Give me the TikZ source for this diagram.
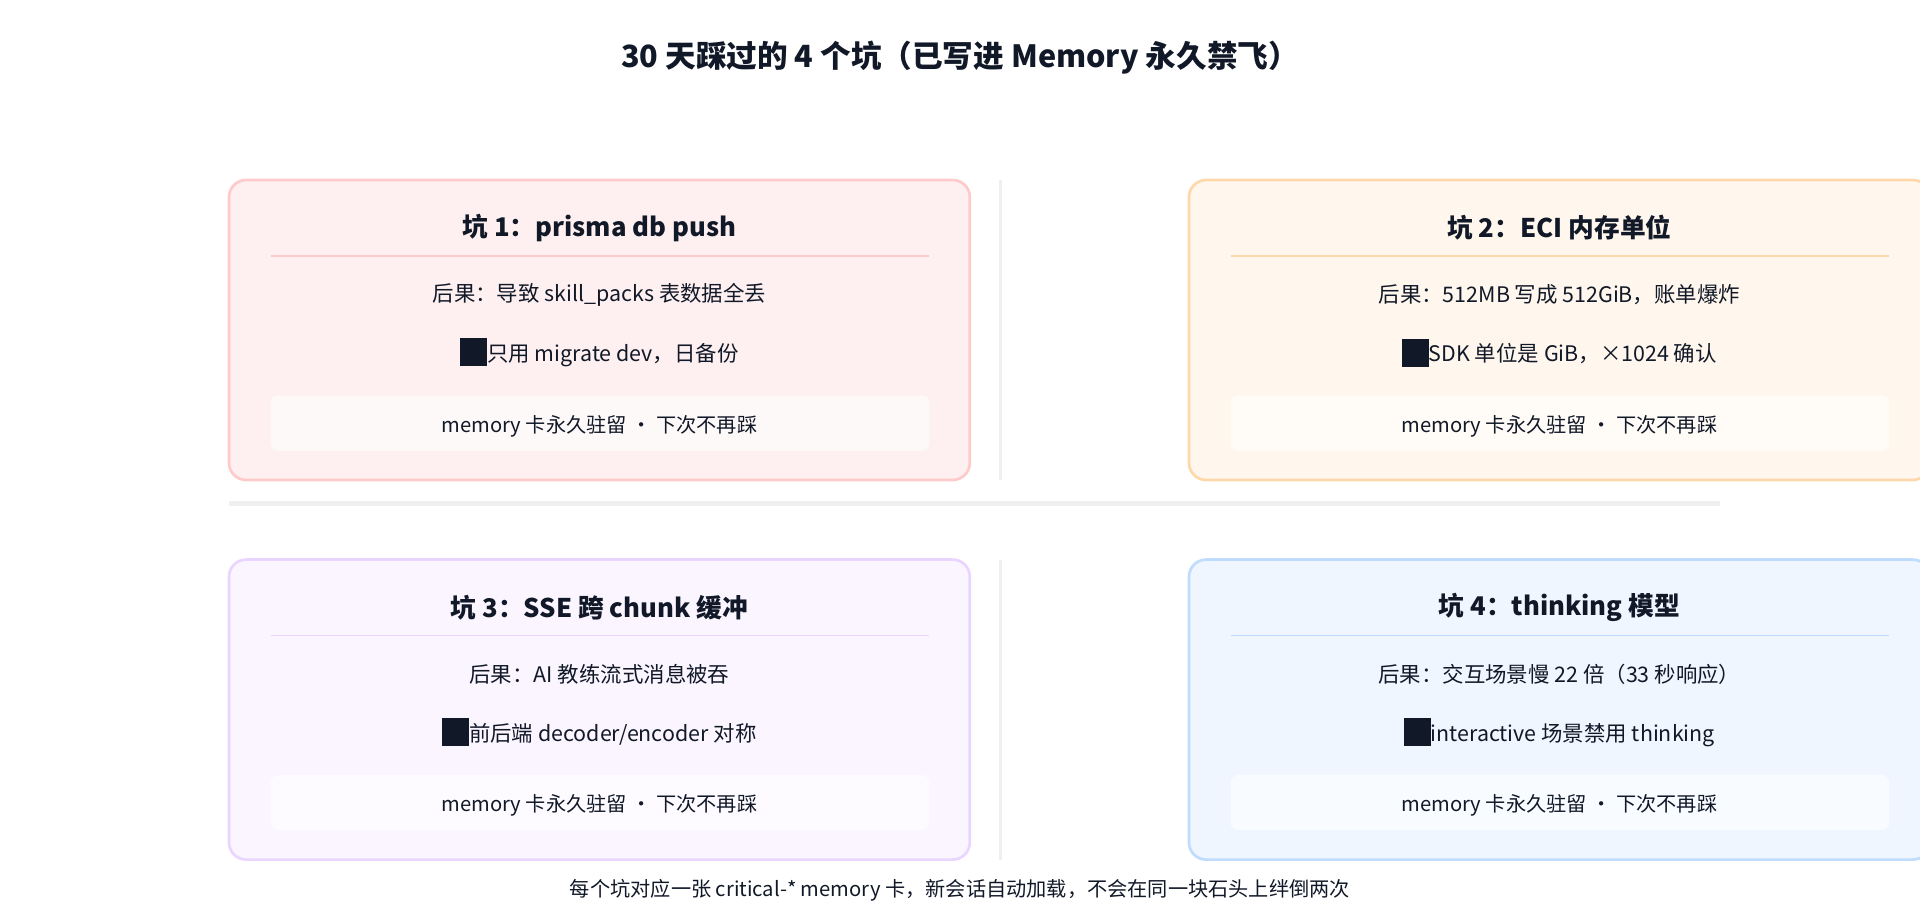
\documentclass[tikz,border=0pt]{standalone}
\usepackage{fontspec}
\setmainfont{Noto Sans CJK SC}
\begin{document}
\definecolor{ink}{HTML}{111827}
\definecolor{fa}{HTML}{FEF0F0}\definecolor{ba}{HTML}{FECACA}
\definecolor{fb}{HTML}{FFF7ED}\definecolor{bb}{HTML}{FED7AA}
\definecolor{fc}{HTML}{FAF5FF}\definecolor{bc}{HTML}{E9D5FF}
\definecolor{fd}{HTML}{EFF6FF}\definecolor{bd}{HTML}{BFDBFE}
\definecolor{sep}{HTML}{EEEFF1}
\newcommand{\blk}{{\color{ink}\rule[-0.22em]{1.25em}{1.3em}}}
\begin{tikzpicture}[x=1pt,y=-1pt,
  card/.style={draw=#1,line width=2.2pt,rounded corners=14pt},
  ttl/.style={font=\fontsize{21}{25}\selectfont\bfseries,text=ink},
  body/.style={font=\fontsize{17.5}{21}\selectfont,text=ink},
  pill/.style={fill=white,fill opacity=0.6,rounded corners=6pt,draw=none},
  pilltxt/.style={font=\fontsize{16.5}{20}\selectfont,text=ink}]
\useasboundingbox (0,0) rectangle (1568,751.4);
\node[font=\fontsize{25}{30}\selectfont\bfseries,text=ink] (title) at (784,47) {30 天踩过的 4 个坑（已写进 Memory 永久禁飞）};
\draw[sep,line width=2.5pt] (817,147) -- (817,392);
\draw[sep,line width=2.5pt] (817,457) -- (817,702);
\draw[sep,line width=4pt] (187,411) -- (1405,411);
\newcommand{\card}[8]{%
 \begin{scope}[shift={(#1,#2)}]
 \draw[card=#4,fill=#3] (0,0) rectangle (605,245);
 \node[ttl] (t#8) at (302.5,39) {#5};
 \draw[#4,line width=1.2pt] (34,62) -- (572,62);
 \node[body] (a#8) at (302.5,94) {#6};
 \node[body] (b#8) at (302.5,141) {\blk#7};
 \fill[pill] (34,176) rectangle (572,221);
 \node[pilltxt] (m#8) at (302.5,201) {memory 卡永久驻留 · 下次不再踩};
 \end{scope}}
\card{187}{147}{fa}{ba}{坑 1：prisma db push}{后果：导致 skill\_packs 表数据全丢}{只用 migrate dev，日备份}{1}
\card{971}{147}{fb}{bb}{坑 2：ECI 内存单位}{后果：512MB 写成 512GiB，账单爆炸}{SDK 单位是 GiB，×1024 确认}{2}
\card{187}{457}{fc}{bc}{坑 3：SSE 跨 chunk 缓冲}{后果：AI 教练流式消息被吞}{前后端 decoder/encoder 对称}{3}
\card{971}{457}{fd}{bd}{坑 4：thinking 模型}{后果：交互场景慢 22 倍（33 秒响应）}{interactive 场景禁用 thinking}{4}
\node[font=\fontsize{16.5}{20}\selectfont,text=ink] (foot) at (784,727) {每个坑对应一张 critical-* memory 卡，新会话自动加载，不会在同一块石头上绊倒两次};
\end{tikzpicture}
\end{document}
